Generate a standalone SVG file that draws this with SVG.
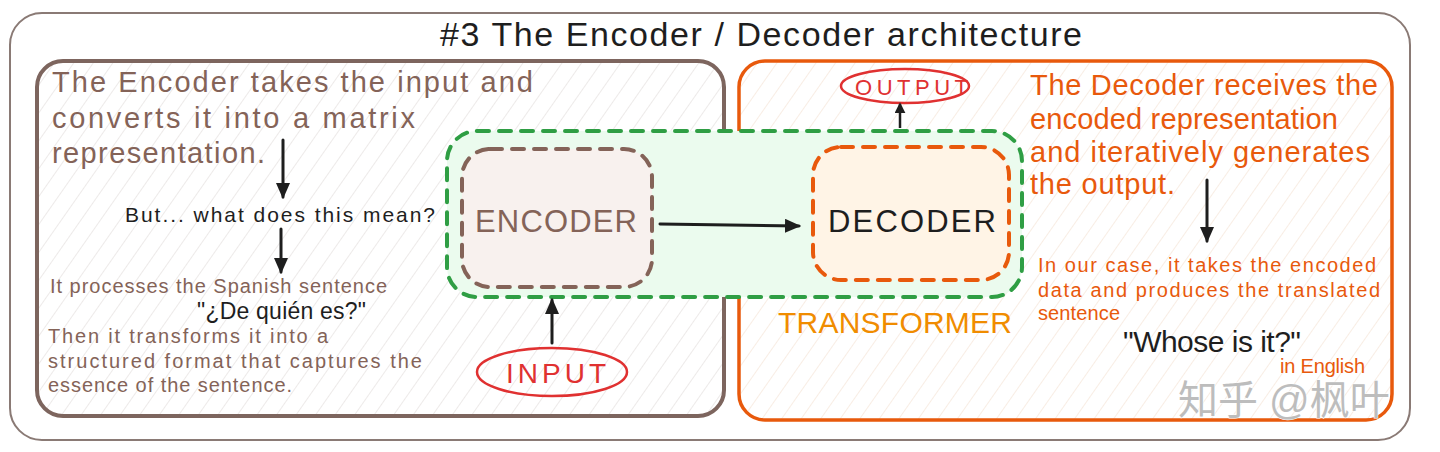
<svg xmlns="http://www.w3.org/2000/svg" width="1440" height="452" viewBox="0 0 1440 452">
<defs>
<style>
text{font-family:"Liberation Sans","Noto Sans CJK SC",sans-serif}
.title{font-size:34px;fill:#1e1e1e}
.lt{font-size:29px;fill:#846358}
.ls{font-size:20px;fill:#846358}
.rt{font-size:29px;fill:#e8590c}
.rs{font-size:20px;fill:#e8590c}
.blk{fill:#1e1e1e}
.arrow{stroke:#1e1e1e;stroke-width:3;fill:none;stroke-linecap:round;marker-end:url(#ah)}
</style>
<marker id="ah" viewBox="0 0 16 14" refX="14" refY="7" markerWidth="16" markerHeight="14" markerUnits="userSpaceOnUse" orient="auto">
<path d="M0,0 L16,7 L0,14 Z" fill="#1e1e1e"/>
</marker>
<marker id="ahs" viewBox="0 0 12 12" refX="10" refY="6" markerWidth="11" markerHeight="11" markerUnits="userSpaceOnUse" orient="auto">
<path d="M0,0 L12,6 L0,12 Z" fill="#1e1e1e"/>
</marker>
<pattern id="hatchL" patternUnits="userSpaceOnUse" width="16" height="16" patternTransform="rotate(35)">
<rect width="16" height="16" fill="#ffffff"/>
<line x1="0" y1="0" x2="0" y2="16" stroke="#e4dfdd" stroke-width="1.3"/>
</pattern>
<pattern id="hatchR" patternUnits="userSpaceOnUse" width="16" height="16" patternTransform="rotate(35)">
<rect width="16" height="16" fill="#ffffff"/>
<line x1="0" y1="0" x2="0" y2="16" stroke="#f5e4d6" stroke-width="1.3"/>
</pattern>
</defs>

<g id="frame">
<rect x="10" y="13" width="1400" height="427" rx="32" fill="#ffffff" stroke="#8a7a75" stroke-width="2"/>
<text class="title" x="440" y="46" textLength="642">#3 The Encoder / Decoder architecture</text>
</g>

<g id="encoder-panel">
<rect x="37" y="61" width="687" height="355" rx="26" fill="url(#hatchL)" stroke="#7d655e" stroke-width="4"/>
<text class="lt" x="52" y="92" textLength="481">The Encoder takes the input and</text>
<text class="lt" x="52" y="128" textLength="363">converts it into a matrix</text>
<text class="lt" x="52" y="163" textLength="213">representation.</text>
<text class="blk" x="125" y="222" font-size="21" textLength="310">But... what does this mean?</text>
<text class="ls" x="50" y="293" textLength="337">It processes the Spanish sentence</text>
<text class="blk" x="197" y="319" font-size="23" textLength="169">"¿De quién es?"</text>
<text class="ls" x="48" y="343" textLength="280">Then it transforms it into a</text>
<text class="ls" x="48" y="368" textLength="374">structured format that captures the</text>
<text class="ls" x="48" y="392" textLength="244">essence of the sentence.</text>
</g>

<g id="decoder-panel">
<rect x="739" y="61" width="653" height="359" rx="26" fill="url(#hatchR)" stroke="#e8590c" stroke-width="3.5"/>
<text class="rt" x="1030" y="95" textLength="348">The Decoder receives the</text>
<text class="rt" x="1030" y="129" textLength="308">encoded representation</text>
<text class="rt" x="1030" y="162" textLength="340">and iteratively generates</text>
<text class="rt" x="1030" y="194" textLength="145">the output.</text>
<text class="rs" x="1038" y="272" textLength="338">In our case, it takes the encoded</text>
<text class="rs" x="1038" y="297" textLength="342">data and produces the translated</text>
<text class="rs" x="1038" y="320" textLength="82">sentence</text>
<text class="blk" x="1123" y="352" font-size="30" textLength="178">"Whose is it?"</text>
<text class="rs" x="1280" y="373" font-size="16" textLength="85">in English</text>
</g>

<g id="transformer">
<rect x="447" y="131" width="575" height="166" rx="30" fill="#ebfbee" stroke="#2f9e44" stroke-width="4" stroke-dasharray="12 10" stroke-linecap="round"/>
<text x="778" y="333" font-size="30" fill="#f08c00" textLength="234">TRANSFORMER</text>
</g>

<g id="encoder">
<rect x="462" y="149" width="190" height="138" rx="28" fill="#f8f1ee" stroke="#846358" stroke-width="4" stroke-dasharray="12 10" stroke-linecap="round"/>
<text x="475" y="232" font-size="31" fill="#846358" textLength="162">ENCODER</text>
</g>

<g id="decoder">
<rect x="813" y="147" width="196" height="133" rx="28" fill="#fff4e6" stroke="#e8590c" stroke-width="4" stroke-dasharray="12 10" stroke-linecap="round"/>
<text x="828" y="232" font-size="31" fill="#1e1e1e" textLength="168">DECODER</text>
</g>

<g id="input">
<ellipse cx="552" cy="372" rx="75" ry="24" fill="none" stroke="#e03131" stroke-width="2.5"/>
<text x="506" y="383" font-size="28" fill="#e03131" textLength="100">INPUT</text>
</g>

<g id="output">
<ellipse cx="905" cy="86" rx="64" ry="17" fill="none" stroke="#e03131" stroke-width="2.5"/>
<text x="855" y="95" font-size="22" fill="#e03131" textLength="113">OUTPUT</text>
</g>

<g id="connectors">
<line class="arrow" x1="283" y1="140" x2="283" y2="197"/>
<line class="arrow" x1="281" y1="229" x2="281" y2="272"/>
<line class="arrow" x1="660" y1="224" x2="799" y2="226"/>
<line class="arrow" x1="552" y1="343" x2="552" y2="300"/>
<line x1="900" y1="128" x2="900" y2="104" stroke="#1e1e1e" stroke-width="2.5" marker-end="url(#ahs)"/>
<line class="arrow" x1="1207" y1="180" x2="1207" y2="241"/>
</g>

<g id="watermark">
<text x="1178" y="414" font-size="40" fill="#bdbdbd" stroke="#ffffff" stroke-width="1.2" paint-order="stroke" font-family="Noto Sans CJK SC, sans-serif">知乎 @枫叶</text>
</g>
</svg>
